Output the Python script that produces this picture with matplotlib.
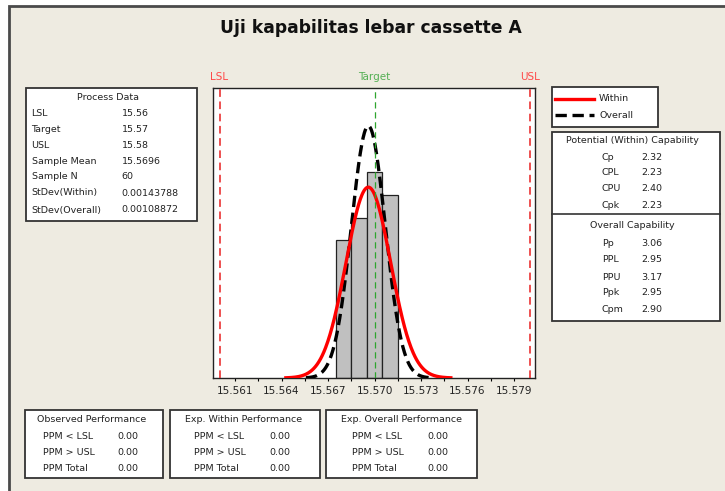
import numpy as np
import matplotlib.pyplot as plt
from matplotlib.patches import Rectangle
from matplotlib.lines import Line2D

W, H = 725, 491

# process data
lsl, target, usl = 15.56, 15.57, 15.58
mean = 15.5696
n_obs = 60
sd_within = 0.00143788
sd_overall = 0.00108872

# histogram
bin_centers = [15.568, 15.569, 15.570, 15.571]
bin_counts = [12, 14, 18, 16]
bin_width = 0.001

tick_values = [15.561, 15.564, 15.567, 15.570, 15.573, 15.576, 15.579]
tick_labels = ['15.561', '15.564', '15.567', '15.570', '15.573', '15.576', '15.579']
minor_ticks = [15.5625, 15.5655, 15.5685, 15.5715, 15.5745, 15.5775]

process_labels = ['LSL', 'Target', 'USL', 'Sample Mean', 'Sample N',
                  'StDev(Within)', 'StDev(Overall)']
process_values = ['15.56', '15.57', '15.58', '15.5696', '60',
                  '0.00143788', '0.00108872']
within_labels = ['Cp', 'CPL', 'CPU', 'Cpk']
within_values = ['2.32', '2.23', '2.40', '2.23']
overall_labels = ['Pp', 'PPL', 'PPU', 'Ppk', 'Cpm']
overall_values = ['3.06', '2.95', '3.17', '2.95', '2.90']
ppm_labels = ['PPM < LSL', 'PPM > USL', 'PPM Total']
observed_ppm = ['0.00', '0.00', '0.00']
exp_within_ppm = ['0.00', '0.00', '0.00']
exp_overall_ppm = ['0.00', '0.00', '0.00']

FS = 6.8
TXT = '#222222'
DASH = (3.4, 1.7)


def fx(x):
    return x / W


def fy(y):
    return 1 - y / H


def txt(x, y, s, **kw):
    kw.setdefault('fontsize', FS)
    kw.setdefault('color', TXT)
    fig.text(fx(x), fy(y), s, va='center', **kw)


def box(x0, y0, x1, y1, **kw):
    kw.setdefault('facecolor', 'white')
    kw.setdefault('edgecolor', '#333333')
    kw.setdefault('lw', 1.3)
    kw.setdefault('zorder', 1)
    fig.add_artist(Rectangle((fx(x0), fy(y1)), (x1 - x0) / W, (y1 - y0) / H,
                             transform=fig.transFigure, **kw))


fig = plt.figure(figsize=(7.25, 4.91), dpi=100)
fig.patch.set_facecolor('white')

# beige panel with frame
box(9, 6, 760, 520, facecolor='#EEEBE1', edgecolor='#4a4a4a', lw=2, zorder=-2)

fig.text(fx(371), fy(28), 'Uji kapabilitas lebar cassette A', ha='center', va='center',
         fontsize=12.3, fontweight='bold', color='#111111')

# main histogram axes
ax = fig.add_axes([fx(213), fy(378), (535 - 213) / W, (378 - 88) / H])
ax.set_facecolor('white')
ax.bar(bin_centers, bin_counts, width=bin_width, color='#C0C0C0',
       edgecolor='#222222', linewidth=0.9, zorder=2)

xw = np.linspace(mean - 3.7 * sd_within, mean + 3.7 * sd_within, 300)
yw = n_obs * bin_width / (sd_within * np.sqrt(2 * np.pi)) * np.exp(-0.5 * ((xw - mean) / sd_within) ** 2)
xo = np.linspace(mean - 3.7 * sd_overall, mean + 3.7 * sd_overall, 300)
yo = n_obs * bin_width / (sd_overall * np.sqrt(2 * np.pi)) * np.exp(-0.5 * ((xo - mean) / sd_overall) ** 2)
ax.plot(xo, yo, color='black', lw=2.4, dashes=DASH, zorder=3)
ax.plot(xw, yw, color='#FF0000', lw=2.4, zorder=4)

ax.axvline(lsl, color='#E82020', lw=1.1, dashes=(5, 3), zorder=5)
ax.axvline(usl, color='#E82020', lw=1.1, dashes=(5, 3), zorder=5)
ax.axvline(target, color='#2EA52E', lw=0.9, dashes=(5, 3), zorder=5)
ax.text(lsl, 1.038, 'LSL', transform=ax.get_xaxis_transform(), ha='center', va='center',
        fontsize=7.5, color='#FF4848')
ax.text(target, 1.038, 'Target', transform=ax.get_xaxis_transform(), ha='center', va='center',
        fontsize=7.5, color='#55B055')
ax.text(usl, 1.038, 'USL', transform=ax.get_xaxis_transform(), ha='center', va='center',
        fontsize=7.5, color='#FF4848')

ax.set_xlim(15.55958, 15.58035)
ax.set_ylim(0, 25.3)
ax.set_yticks([])
ax.set_xticks(tick_values)
ax.set_xticklabels(tick_labels)
ax.set_xticks(minor_ticks, minor=True)
ax.tick_params(axis='x', which='both', length=2.5, width=0.8, direction='out',
               labelsize=7.5, labelcolor=TXT, pad=3)
for s in ax.spines.values():
    s.set_linewidth(1.0)
    s.set_color('#222222')

# process data box
box(26, 88, 197, 221)
txt(108, 97.5, 'Process Data', ha='center')
row_y = [114, 130, 145, 161.5, 176.5, 193, 210]
for lab, val, y in zip(process_labels, process_values, row_y):
    txt(31.5, y, lab)
    txt(121.5, y, val)

# legend
box(552, 87, 658, 127)
fig.add_artist(Line2D([fx(555), fx(594)], [fy(98.5), fy(98.5)], color='#FF0000', lw=2.4,
                      transform=fig.transFigure))
fig.add_artist(Line2D([fx(555), fx(594)], [fy(115), fy(115)], color='black', lw=2.4,
                      dashes=DASH, transform=fig.transFigure))
txt(599, 98.5, 'Within')
txt(599, 115, 'Overall')

# capability box
box(552, 132, 720, 321)
fig.add_artist(Line2D([fx(552), fx(720)], [fy(213.5), fy(213.5)], color='#333333', lw=1.2,
                      transform=fig.transFigure))
txt(632, 140.5, 'Potential (Within) Capability', ha='center')
for lab, val, y in zip(within_labels, within_values, [157.5, 172.5, 188.5, 205]):
    txt(602, y, lab)
    txt(641, y, val)
txt(632, 226, 'Overall Capability', ha='center')
for lab, val, y in zip(overall_labels, overall_values, [244, 260, 277, 292.5, 309]):
    txt(602, y, lab)
    txt(641, y, val)

# performance boxes
perf = [
    ('Observed Performance', observed_ppm, 25, 163, 92, 43, 117),
    ('Exp. Within Performance', exp_within_ppm, 170, 320, 244, 194, 269),
    ('Exp. Overall Performance', exp_overall_ppm, 326, 477, 401, 352, 427),
]
for title, vals, x0, x1, xc, xl, xv in perf:
    box(x0, 410, x1, 478)
    txt(xc, 420, title, ha='center')
    for lab, val, y in zip(ppm_labels, vals, [436.5, 452.5, 468.5]):
        txt(xl, y, lab)
        txt(xv, y, val)

fig.savefig('out.png', dpi=100)
